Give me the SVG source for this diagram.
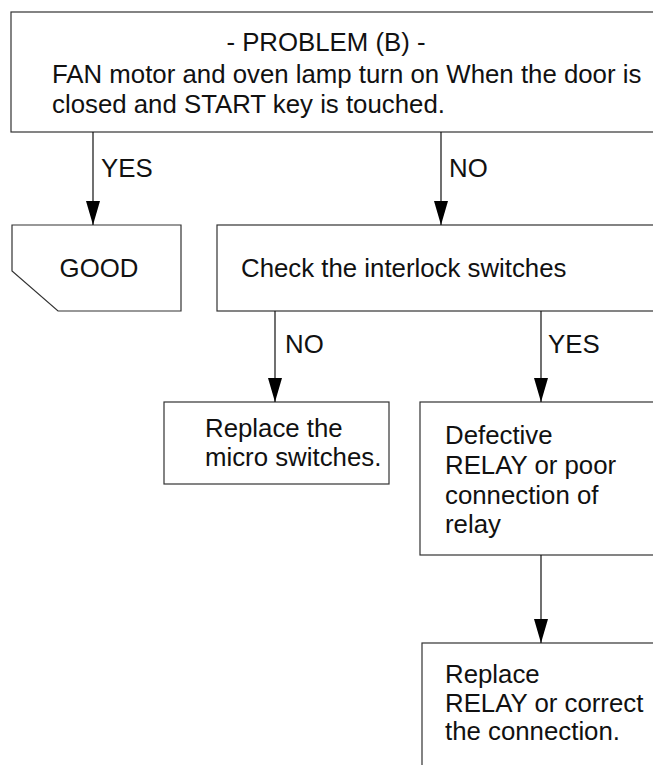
<svg xmlns="http://www.w3.org/2000/svg" width="653" height="765" viewBox="0 0 653 765">
<style>
.box{fill:#fff;stroke:#333;stroke-width:1.2}
.t{font-family:"Liberation Sans",Arial,sans-serif;font-size:25.8px;fill:#111}
.c{stroke:#111;stroke-width:1.2;fill:none}
</style>
<defs>
<marker id="ah" markerUnits="userSpaceOnUse" markerWidth="24" markerHeight="14" viewBox="0 0 24 14" refX="24" refY="7" orient="auto">
<path d="M0,0 L24,7 L0,14 Z" fill="#000"/>
</marker>
</defs>
<rect width="653" height="765" fill="#fff"/>
<g id="problem">
<rect class="box" x="11" y="12" width="660" height="120"/>
<text class="t" x="326" y="51" text-anchor="middle">- PROBLEM (B) -</text>
<text class="t" x="52" y="83">FAN motor and oven lamp turn on When the door is</text>
<text class="t" x="52" y="113">closed and START key is touched.</text>
</g>
<g id="good">
<path class="box" d="M12,225 H181 V311 H58 L12,271 Z"/>
<text class="t" x="99" y="277" text-anchor="middle">GOOD</text>
</g>
<g id="check">
<rect class="box" x="217" y="225" width="460" height="86"/>
<text class="t" x="241" y="277">Check the interlock switches</text>
</g>
<g id="micro">
<rect class="box" x="164" y="402" width="225" height="82"/>
<text class="t" x="205" y="437">Replace the</text>
<text class="t" x="205" y="466">micro switches.</text>
</g>
<g id="relay">
<rect class="box" x="420" y="402" width="260" height="153"/>
<text class="t" x="445" y="444">Defective</text>
<text class="t" x="445" y="474">RELAY or poor</text>
<text class="t" x="445" y="504">connection of</text>
<text class="t" x="445" y="533">relay</text>
</g>
<g id="replace">
<rect class="box" x="422" y="643" width="260" height="140"/>
<text class="t" x="445" y="683">Replace</text>
<text class="t" x="445" y="712">RELAY or correct</text>
<text class="t" x="445" y="740">the connection.</text>
</g>
<g id="connectors">
<line class="c" x1="93" y1="132" x2="93" y2="225" marker-end="url(#ah)"/>
<line class="c" x1="441" y1="132" x2="441" y2="225" marker-end="url(#ah)"/>
<line class="c" x1="275" y1="311" x2="275" y2="402" marker-end="url(#ah)"/>
<line class="c" x1="541" y1="311" x2="541" y2="402" marker-end="url(#ah)"/>
<line class="c" x1="541" y1="555" x2="541" y2="643" marker-end="url(#ah)"/>
<text class="t" x="101" y="177">YES</text>
<text class="t" x="449" y="177">NO</text>
<text class="t" x="285" y="353">NO</text>
<text class="t" x="548" y="353">YES</text>
</g>
</svg>
